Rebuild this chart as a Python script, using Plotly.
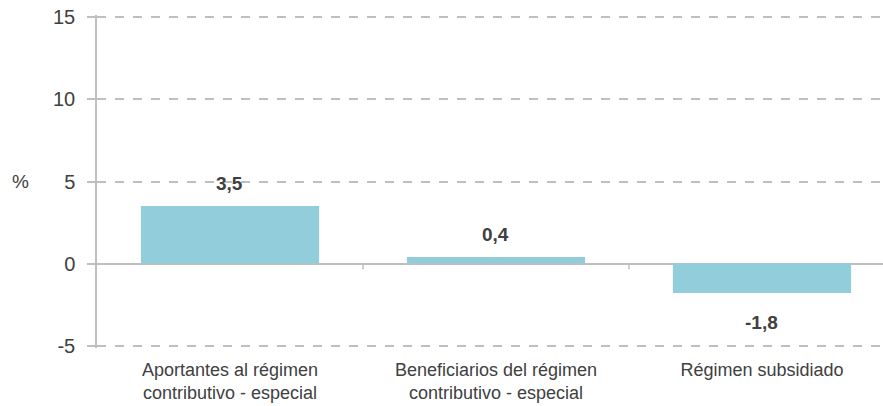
import plotly.graph_objects as go

categories = ["Aportantes al régimen<br>contributivo - especial",
              "Beneficiarios del régimen<br>contributivo - especial",
              "Régimen subsidiado"]
values = [3.5, 0.4, -1.8]
y_ticks = [-5, 0, 5, 10, 15]
y_ticktext = ["-5", "0", "5", "10", "15"]

BAR = "#92CDDC"
GRID = "#BFBFBF"
TXT = "#404040"
FONT = "Liberation Sans, Arial, sans-serif"

fig = go.Figure()
fig.add_trace(go.Bar(x=categories, y=values, marker_color=BAR, width=0.67,
                     marker_line_width=0, hoverinfo="skip"))

for c, v in zip(categories, values):
    fig.add_annotation(x=c, y=v, text="<b>" + f"{v:.1f}".replace(".", ",") + "</b>",
                       showarrow=False, yanchor="bottom" if v >= 0 else "top",
                       yshift=10 if v >= 0 else -17,
                       font=dict(family=FONT, size=19, color=TXT))

# tick marks on the zero line at category boundaries
for i in range(len(categories) - 1):
    fig.add_shape(type="line", x0=i + 0.5, x1=i + 0.5, y0=0, y1=-0.35,
                  xref="x", yref="y", line=dict(color=GRID, width=1.5))

fig.add_annotation(text="%", xref="paper", yref="y", x=-0.097, y=5, xanchor="center",
                   showarrow=False, font=dict(family=FONT, size=19, color=TXT))

fig.update_layout(
    width=883, height=406,
    margin=dict(l=97, r=0, t=15, b=58),
    paper_bgcolor="white", plot_bgcolor="white",
    showlegend=False,
    font=dict(family=FONT, size=18, color=TXT),
    xaxis=dict(type="category", range=[-0.5, 2.455], showgrid=False, showline=False,
               ticks="", ticklabelstandoff=9, tickfont=dict(size=18, color=TXT),
               automargin=False),
    yaxis=dict(range=[-5.15, 15.15], tickvals=y_ticks, ticktext=y_ticktext,
               showgrid=True, gridcolor=GRID, griddash="dash", gridwidth=1.5,
               showline=True, linecolor=GRID, linewidth=1.5,
               ticks="outside", ticklen=8, tickcolor=GRID, tickwidth=1.5,
               ticklabelstandoff=8,
               zeroline=True, zerolinecolor=GRID, zerolinewidth=2,
               tickfont=dict(size=20, color=TXT), automargin=False),
)

fig.write_html("out.html", config={"displayModeBar": False},
               post_script="document.body.style.margin='0';document.body.style.overflow='hidden';")
